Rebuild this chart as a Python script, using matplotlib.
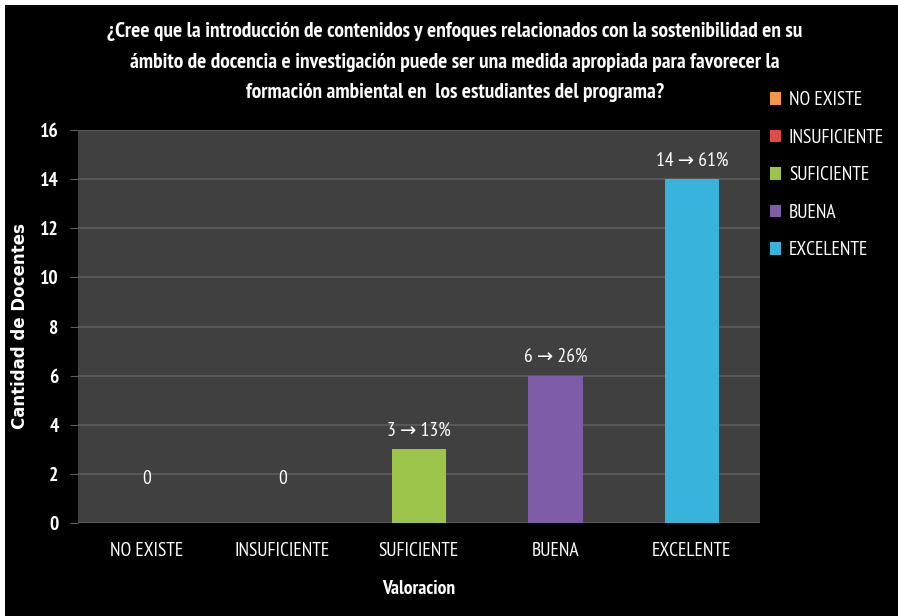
import matplotlib
matplotlib.use("Agg")
import matplotlib.pyplot as plt
from matplotlib.patches import Rectangle
from matplotlib import font_manager

categories = ["NO EXISTE", "INSUFICIENTE", "SUFICIENTE", "BUENA", "EXCELENTE"]
counts = [0, 0, 3, 6, 14]
percents = [None, None, 13, 26, 61]
colors = ["#f79646", "#e04a4a", "#9cc44a", "#7f5ca8", "#38b4dc"]
yticks = [0, 2, 4, 6, 8, 10, 12, 14, 16]

# pick a narrow font that has both a regular and a bold face
def weights(name):
    out = set()
    for f in font_manager.fontManager.ttflist:
        if f.name == name and f.style == "normal":
            w = f.weight
            if isinstance(w, str):
                w = {"normal": 400, "regular": 400, "bold": 700}.get(w, 0)
            out.add(w)
    return out

narrow = "DejaVu Sans"
for cand in ["PT Sans Narrow", "Roboto Condensed", "Fira Sans Condensed", "Open Sans Condensed",
             "Encode Sans Condensed", "Archivo Narrow", "Asap Condensed", "Liberation Sans Narrow",
             "Carlito"]:
    w = weights(cand)
    if 400 in w and 700 in w:
        narrow = cand
        break
fam = [narrow, "DejaVu Sans"]
plt.rcParams["font.family"] = fam

fig = plt.figure(figsize=(8.98, 6.16), dpi=100, facecolor="white")
fig.patches.append(Rectangle((5 / 898, 0), 1, 1 - 5 / 616, transform=fig.transFigure,
                             facecolor="black", edgecolor="none", zorder=-1))

ax = fig.add_axes([78 / 898, 1 - 523 / 616, (760 - 78) / 898, (523 - 130) / 616])
ax.set_facecolor("#404040")

x = range(len(categories))
ax.bar(x, counts, width=0.4, color=colors, zorder=3)

for i, (c, p) in enumerate(zip(counts, percents)):
    txt = "%d" % c if p is None else "%d \u2192 %d%%" % (c, p)
    off = 25 if c == 0 else 7
    ax.annotate(txt, (i, c), xytext=(0, off), textcoords="offset points",
                ha="center", va="bottom", color="white", fontsize=14)

ax.set_xlim(-0.5, len(categories) - 0.5)
ax.set_ylim(0, 16)
ax.set_yticks(yticks)
ax.set_yticklabels([str(t) for t in yticks], fontweight="bold", color="white", fontsize=14)
ax.set_xticks(list(x))
ax.set_xticklabels(categories, color="white", fontsize=14)
ax.tick_params(axis="x", length=0, pad=14)
ax.tick_params(axis="y", length=6, color="#5e5e5e", pad=8)
ax.yaxis.grid(True, color="#5e5e5e", linewidth=1.2, zorder=1)
ax.set_axisbelow(True)
for s in ax.spines.values():
    s.set_visible(False)

ax.set_xlabel("Valoracion", color="white", fontsize=14, fontweight="bold", labelpad=14)
ax.set_ylabel("Cantidad de Docentes", color="white", fontsize=12, fontweight="bold",
              family="DejaVu Sans", labelpad=8)

fig.text(455 / 898, 1 - 62 / 616,
         "\u00bfCree que la introducci\u00f3n de contenidos y enfoques relacionados con la sostenibilidad en su\n"
         "\u00e1mbito de docencia e investigaci\u00f3n puede ser una medida apropiada para favorecer la\n"
         "formaci\u00f3n ambiental en  los estudiantes del programa?",
         ha="center", va="center", color="white", fontsize=15.5, fontweight="bold", linespacing=1.75)

handles = [Rectangle((0, 0), 1, 1, facecolor=c) for c in colors]
fig.legend(handles, categories, loc="upper left", bbox_to_anchor=(752 / 898, 1 - 74 / 616),
           frameon=False, fontsize=14, handlelength=0.6, handleheight=0.6,
           handletextpad=0.4, labelspacing=1.0, labelcolor="white")

fig.savefig("out.png", dpi=100, facecolor=fig.get_facecolor())
